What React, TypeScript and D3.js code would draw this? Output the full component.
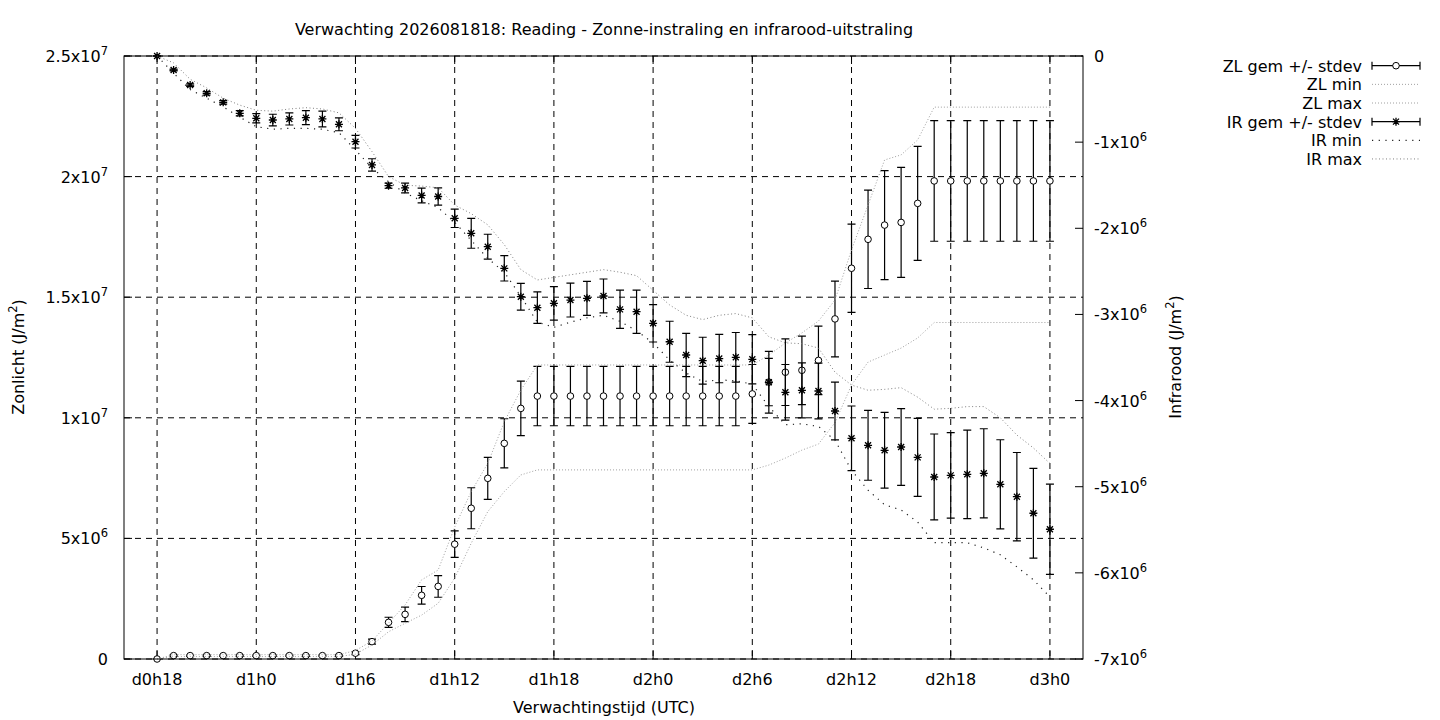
import React from 'react';
import * as d3 from 'd3';

// hours since forecast start (d0h18 .. d3h0)
const hours = [
  18, 19, 20, 21, 22, 23, 24, 25, 26, 27, 28, 29, 30, 31, 32, 33, 34, 35, 36,
  37, 38, 39, 40, 41, 42, 43, 44, 45, 46, 47, 48, 49, 50, 51, 52, 53, 54, 55,
  56, 57, 58, 59, 60, 61, 62, 63, 64, 65, 66, 67, 68, 69, 70, 71, 72,
];

// values in units of 1e6 J/m2
const zlMean = [
  0, 0.14, 0.14, 0.14, 0.14, 0.14, 0.14, 0.14, 0.14, 0.14, 0.14, 0.14,
  0.24, 0.72, 1.52, 1.85, 2.64, 3.01, 4.76, 6.25, 7.49, 8.94, 10.39,
  10.9, 10.9, 10.9, 10.9, 10.9, 10.9, 10.9, 10.9, 10.9, 10.9, 10.9, 10.9, 10.9,
  10.99, 11.48, 11.89, 11.97, 12.38, 14.1, 16.2, 17.4, 17.99, 18.1, 18.89,
  19.82, 19.82, 19.82, 19.82, 19.82, 19.82, 19.82, 19.82,
];
const zlSd = [
  0, 0.03, 0.03, 0.03, 0.03, 0.03, 0.03, 0.03, 0.03, 0.03, 0.03, 0.03,
  0.06, 0.1, 0.21, 0.3, 0.365, 0.45, 0.55, 0.85, 0.87, 1.02, 1.13,
  1.23, 1.23, 1.23, 1.23, 1.23, 1.23, 1.23, 1.23, 1.23, 1.23, 1.23, 1.23, 1.23,
  1.22, 0.98, 1.38, 1.42, 1.42, 1.57, 1.83, 2.04, 2.26, 2.28, 2.36,
  2.5, 2.5, 2.5, 2.5, 2.5, 2.5, 2.5, 2.5,
];
const zlMin = [
  0, 0.1, 0.1, 0.1, 0.1, 0.1, 0.1, 0.1, 0.1, 0.1, 0.1, 0.1,
  0.2, 0.58, 1.13, 1.48, 1.82, 2.31, 3.35, 4.8, 6.11, 6.94, 7.63,
  7.84, 7.84, 7.84, 7.84, 7.84, 7.84, 7.84, 7.84, 7.84, 7.84, 7.84, 7.84, 7.84, 7.84,
  8.04, 8.33, 8.66, 8.91, 9.8, 11.36, 12.31, 12.6, 12.89, 13.31,
  13.95, 13.95, 13.95, 13.95, 13.95, 13.95, 13.95, 13.95,
];
const zlMax = [
  0, 0.18, 0.18, 0.18, 0.18, 0.18, 0.18, 0.18, 0.18, 0.18, 0.18, 0.18,
  0.35, 0.75, 1.49, 2.24, 3.28, 3.69, 5.47, 6.94, 8.11, 9.84, 11.15,
  12.19, 12.19, 12.19, 12.19, 12.19, 12.19, 12.19, 12.19, 12.19, 12.19, 12.19, 12.19, 12.19, 12.19,
  12.6, 13.1, 13.52, 14.01, 14.88, 16.96, 18.82, 20.69, 20.9, 21.52,
  22.88, 22.88, 22.88, 22.88, 22.88, 22.88, 22.88, 22.88,
];

const irMean = [
  0, -0.163, -0.337, -0.433, -0.538, -0.665, -0.723, -0.743, -0.731, -0.716,
  -0.731, -0.793, -0.995, -1.265, -1.505, -1.532, -1.619, -1.631, -1.884,
  -2.058, -2.214, -2.465, -2.794, -2.922, -2.871, -2.833, -2.813, -2.786,
  -2.941, -2.968, -3.103, -3.317, -3.471, -3.537, -3.512, -3.498, -3.521,
  -3.788, -3.904, -3.881, -3.889, -4.121, -4.438, -4.519, -4.577, -4.539,
  -4.659, -4.887, -4.868, -4.856, -4.844, -4.972, -5.116, -5.308, -5.494,
];
const irSd = [
  0, 0.01, 0.015, 0.02, 0.02, 0.03, 0.054, 0.067, 0.07, 0.081, 0.091, 0.075,
  0.073, 0.072, 0.03, 0.056, 0.085, 0.1, 0.107, 0.174, 0.145, 0.147, 0.155,
  0.183, 0.194, 0.197, 0.197, 0.197, 0.222, 0.251, 0.217, 0.238, 0.252, 0.272,
  0.281, 0.288, 0.286, 0.358, 0.323, 0.319, 0.323, 0.335, 0.375, 0.406, 0.439,
  0.445, 0.453, 0.499, 0.497, 0.514, 0.517, 0.517, 0.513, 0.522, 0.524,
];
const irMax = [
  0, -0.08, -0.27, -0.37, -0.49, -0.57, -0.63, -0.64, -0.615, -0.6, -0.615,
  -0.66, -0.84, -1.11, -1.4, -1.5, -1.51, -1.53, -1.73, -1.83, -1.96, -2.19,
  -2.48, -2.6, -2.57, -2.54, -2.51, -2.48, -2.51, -2.55, -2.72, -2.89, -3.01,
  -3.06, -3.01, -2.99, -3.04, -3.26, -3.33, -3.34, -3.39, -3.67, -3.82, -3.88,
  -3.87, -3.85, -3.96, -4.1, -4.09, -4.07, -4.07, -4.2, -4.4, -4.55, -4.73,
];
const irMin = [
  0, -0.2, -0.39, -0.49, -0.59, -0.71, -0.82, -0.85, -0.84, -0.84, -0.85,
  -0.89, -1.09, -1.3, -1.46, -1.59, -1.68, -1.76, -1.93, -2.14, -2.35, -2.51,
  -2.79, -3.09, -3.15, -3.09, -3.04, -3.01, -3.08, -3.19, -3.33, -3.53, -3.68,
  -3.78, -3.76, -3.77, -3.81, -4.07, -4.28, -4.27, -4.3, -4.46, -4.81, -5.04,
  -5.21, -5.27, -5.41, -5.65, -5.65, -5.65, -5.71, -5.79, -5.93, -6.08, -6.28,
];

const xTicks = [18, 24, 30, 36, 42, 48, 54, 60, 66, 72];
const xTickLabels = ['d0h18', 'd1h0', 'd1h6', 'd1h12', 'd1h18', 'd2h0', 'd2h6', 'd2h12', 'd2h18', 'd3h0'];
const leftTicks = [0, 5e6, 1e7, 1.5e7, 2e7, 2.5e7];
const rightTicks = [0, -1e6, -2e6, -3e6, -4e6, -5e6, -6e6, -7e6];

const M = 1e6;
const W = 1440;
const H = 720;
const plot = { left: 124, right: 1083, top: 56, bottom: 659 };
const font = 'DejaVu Sans, Liberation Sans, sans-serif';
const FS = 16;

const x = d3.scaleLinear().domain([16, 74]).range([plot.left, plot.right]);
const yL = d3.scaleLinear().domain([0, 2.5e7]).range([plot.bottom, plot.top]);
const yR = d3.scaleLinear().domain([-7e6, 0]).range([plot.bottom, plot.top]);

// "2.5x10^7" style label pieces
const sci = (v: number) => {
  if (v === 0) return { m: '0', e: '' };
  const e = Math.floor(Math.log10(Math.abs(v)));
  const m = +(v / Math.pow(10, e)).toFixed(2);
  return { m: `${m}x10`, e: String(e) };
};

const TickText = ({ v, ...rest }: any) => {
  const { m, e } = sci(v);
  return (
    <text {...rest}>
      {m}
      {e && (
        <tspan dy={-7} fontSize={11.5}>
          {e}
        </tspan>
      )}
    </text>
  );
};

const starPath = 'M-4,0H4M0,-4V4M-3,-3L3,3M-3,3L3,-3';

const ErrBar = ({ cx, y0, y1 }: { cx: number; y0: number; y1: number }) => (
  <path d={`M${cx},${y0}V${y1}M${cx - 4},${y0}H${cx + 4}M${cx - 4},${y1}H${cx + 4}`} stroke="#000" strokeWidth={1.2} fill="none" />
);

const mkLine = (ys: number[], y: d3.ScaleLinear<number, number>) =>
  d3.line<number>().x((_, i) => x(hours[i])).y((v) => y(v * M))(ys) || '';

const legend = [
  { label: 'ZL gem +/- stdev', kind: 'zl' },
  { label: 'ZL min', kind: 'zlline' },
  { label: 'ZL max', kind: 'zlline' },
  { label: 'IR gem +/- stdev', kind: 'ir' },
  { label: 'IR min', kind: 'irmin' },
  { label: 'IR max', kind: 'irmax' },
];

const zlDash = { stroke: '#a0a0a0', strokeWidth: 1, strokeDasharray: '1,2', fill: 'none' };
const irMaxDash = { stroke: '#808080', strokeWidth: 1, strokeDasharray: '1,2.5', fill: 'none' };
const irMinDash = { stroke: '#202020', strokeWidth: 1.2, strokeDasharray: '1.2,5.5', fill: 'none' };

export default function App() {
  return (
    <svg width={W} height={H} style={{ position: 'absolute', left: 0, top: 0, background: '#fff' }} fontFamily={font}>
      <rect width={W} height={H} fill="#fff" />
      {/* grid */}
      <g stroke="#000" strokeWidth={1} strokeDasharray="6,5">
        {xTicks.map((t) => (
          <line key={'gx' + t} x1={x(t)} x2={x(t)} y1={plot.top} y2={plot.bottom} />
        ))}
        {leftTicks.map((t) => (
          <line key={'gy' + t} x1={plot.left} x2={plot.right} y1={yL(t)} y2={yL(t)} />
        ))}
      </g>
      {/* axis ticks */}
      <g stroke="#000" strokeWidth={1}>
        {xTicks.map((t) => (
          <g key={'tx' + t}>
            <line x1={x(t)} x2={x(t)} y1={plot.bottom} y2={plot.bottom - 8} />
            <line x1={x(t)} x2={x(t)} y1={plot.top} y2={plot.top + 8} />
          </g>
        ))}
        {leftTicks.map((t) => (
          <line key={'tl' + t} x1={plot.left} x2={plot.left + 8} y1={yL(t)} y2={yL(t)} />
        ))}
        {rightTicks.map((t) => (
          <line key={'tr' + t} x1={plot.right} x2={plot.right - 8} y1={yR(t)} y2={yR(t)} />
        ))}
      </g>

      {/* ZL */}
      <g>
        {hours.map((h, i) => (
          <ErrBar key={'ze' + h} cx={x(h)} y0={yL((zlMean[i] - zlSd[i]) * M)} y1={yL((zlMean[i] + zlSd[i]) * M)} />
        ))}
        {hours.map((h, i) => (
          <circle key={'zc' + h} cx={x(h)} cy={yL(zlMean[i] * M)} r={3.3} fill="#fff" stroke="#000" strokeWidth={1} />
        ))}
      </g>
      <path d={mkLine(zlMin, yL)} {...zlDash} />
      <path d={mkLine(zlMax, yL)} {...zlDash} />

      {/* IR */}
      <g>
        {hours.map((h, i) => (
          <ErrBar key={'ie' + h} cx={x(h)} y0={yR((irMean[i] - irSd[i]) * M)} y1={yR((irMean[i] + irSd[i]) * M)} />
        ))}
        {hours.map((h, i) => (
          <path key={'is' + h} d={starPath} transform={`translate(${x(h)},${yR(irMean[i] * M)})`} stroke="#000" strokeWidth={1.3} fill="none" />
        ))}
      </g>
      <path d={mkLine(irMin, yR)} {...irMinDash} />
      <path d={mkLine(irMax, yR)} {...irMaxDash} />

      {/* border */}
      <rect x={plot.left} y={plot.top} width={plot.right - plot.left} height={plot.bottom - plot.top} fill="none" stroke="#000" strokeWidth={1} />

      {/* tick labels */}
      <g fontSize={FS} fill="#000">
        {xTicks.map((t, i) => (
          <text key={'lx' + t} x={x(t)} y={685} textAnchor="middle">
            {xTickLabels[i]}
          </text>
        ))}
        {leftTicks.map((t) => (
          <TickText key={'ll' + t} v={t} x={108} y={yL(t) + 6} textAnchor="end" />
        ))}
        {rightTicks.map((t) => (
          <TickText key={'lr' + t} v={t} x={1094} y={yR(t) + 6} textAnchor="start" />
        ))}
      </g>

      {/* titles */}
      <g fontSize={FS} fill="#000">
        <text x={604} y={35} textAnchor="middle">
          Verwachting 2026081818: Reading - Zonne-instraling en infrarood-uitstraling
        </text>
        <text x={604} y={713} textAnchor="middle">
          Verwachtingstijd (UTC)
        </text>
        <text transform="translate(24,357) rotate(-90)" textAnchor="middle">
          Zonlicht (J/m<tspan dy={-7} fontSize={11.5}>2</tspan><tspan dy={7}>)</tspan>
        </text>
        <text transform="translate(1181,357) rotate(-90)" textAnchor="middle">
          Infrarood (J/m<tspan dy={-7} fontSize={11.5}>2</tspan><tspan dy={7}>)</tspan>
        </text>
      </g>

      {/* legend */}
      <g fontSize={FS}>
        {legend.map((d, i) => {
          const ly = 65.7 + i * 18.65;
          const x0 = 1372;
          const x1 = 1420;
          const mx = (x0 + x1) / 2;
          return (
            <g key={d.label}>
              <text x={1362} y={ly + 6} textAnchor="end">
                {d.label}
              </text>
              {(d.kind === 'zl' || d.kind === 'ir') && (
                <g stroke="#000" strokeWidth={1.2} fill="none">
                  <path d={`M${x0},${ly}H${x1}M${x0},${ly - 4}V${ly + 4}M${x1},${ly - 4}V${ly + 4}`} />
                  {d.kind === 'zl' ? (
                    <circle cx={mx} cy={ly} r={3.3} fill="#fff" strokeWidth={1} />
                  ) : (
                    <path d={starPath} transform={`translate(${mx},${ly})`} strokeWidth={1.3} />
                  )}
                </g>
              )}
              {d.kind === 'zlline' && <line x1={x0} x2={x1} y1={ly} y2={ly} {...zlDash} />}
              {d.kind === 'irmin' && <line x1={x0} x2={x1} y1={ly} y2={ly} {...irMinDash} />}
              {d.kind === 'irmax' && <line x1={x0} x2={x1} y1={ly} y2={ly} {...irMaxDash} />}
            </g>
          );
        })}
      </g>
    </svg>
  );
}
